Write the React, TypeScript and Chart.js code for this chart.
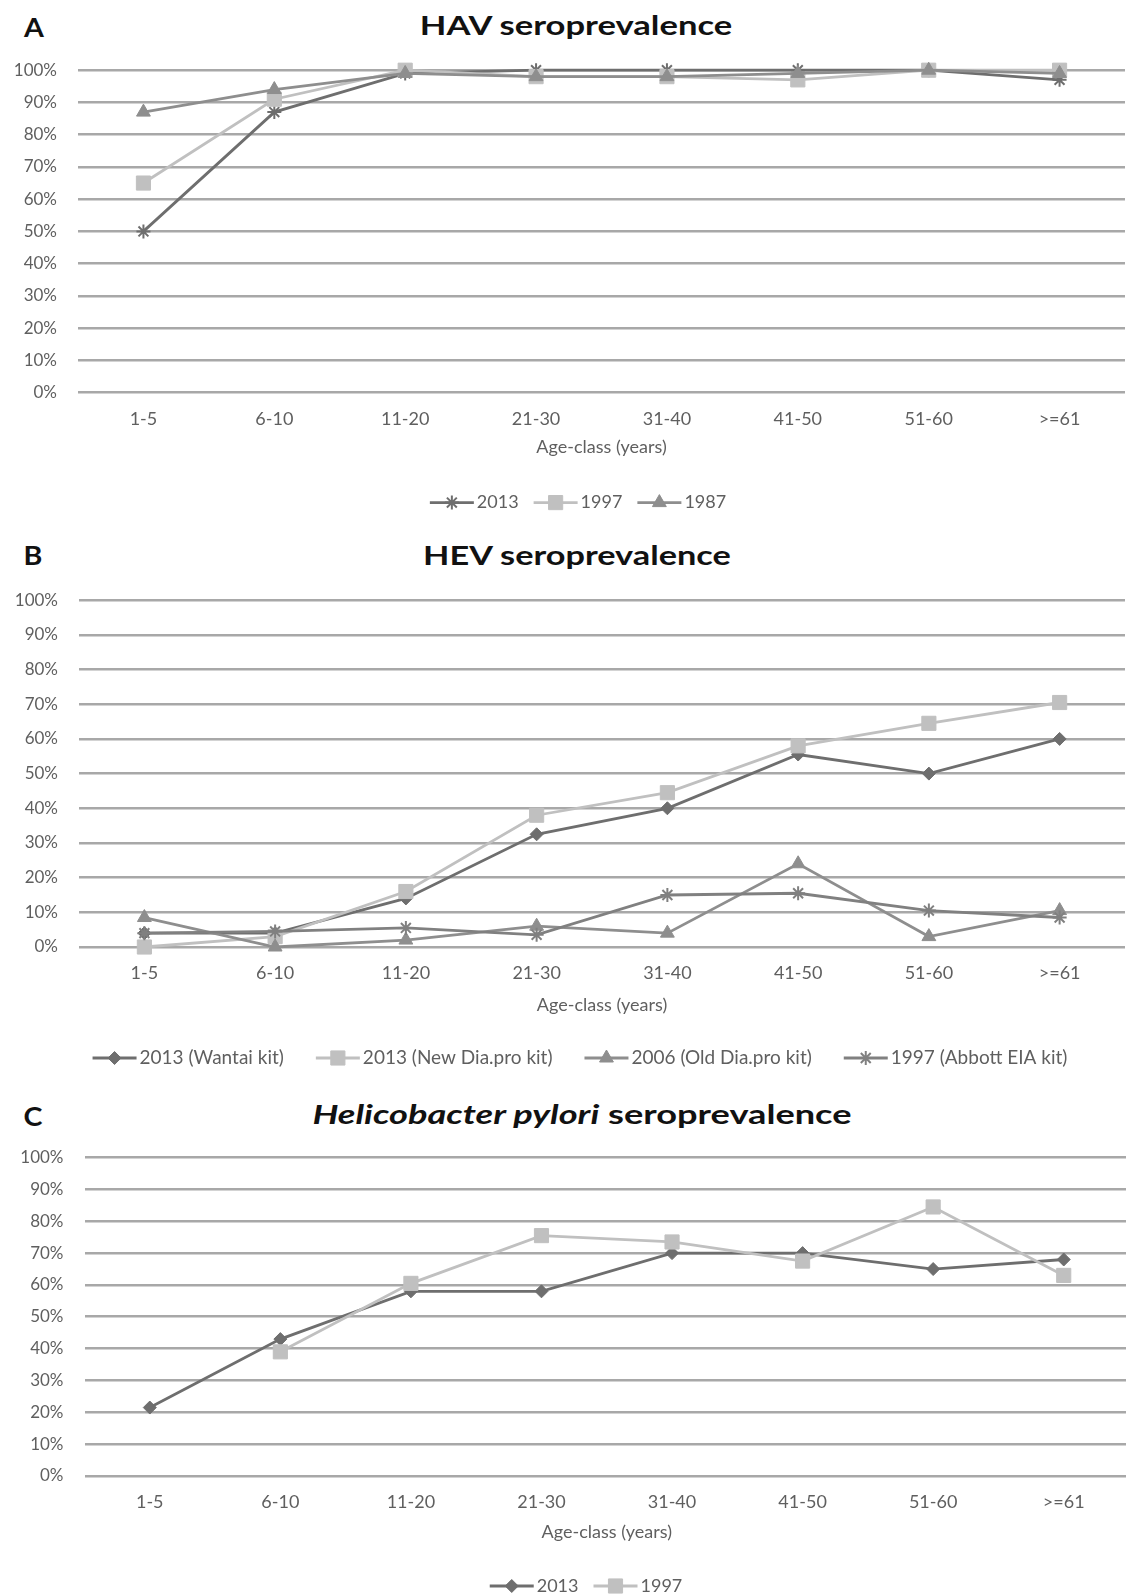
import React, { useEffect, useRef } from 'react';
import { Chart, registerables } from 'chart.js';
import { drawPoint } from 'chart.js/helpers';

Chart.register(...registerables);

// ---------- data ----------
const ageClasses = ['1-5', '6-10', '11-20', '21-30', '31-40', '41-50', '51-60', '>=61'];
const xAxisTitle = 'Age-class (years)';

const havLabels = ['2013', '1997', '1987'];
const hav2013 = [50, 87, 99, 100, 100, 100, 100, 97];
const hav1997 = [65, 91, 100, 98, 98, 97, 100, 100];
const hav1987 = [87, 94, 99, 98, 98, 99, 100, 99];

const hevLabels = ['2013 (Wantai kit)', '2013 (New Dia.pro kit)', '2006 (Old Dia.pro kit)', '1997 (Abbott EIA kit)'];
const hevWantai = [4, 4, 14, 32.5, 40, 55.5, 50, 60];
const hevNewDiapro = [0, 3, 16, 38, 44.5, 58, 64.5, 70.5];
const hevOldDiapro = [8.5, 0, 2, 6, 4, 24, 3, 10.5];
const hevAbbott = [4, 4.5, 5.5, 3.5, 15, 15.5, 10.5, 8.5];

const hpLabels = ['2013', '1997'];
const hp2013 = [21.5, 43, 58, 58, 70, 70, 65, 68];
const hp1997 = [null, 39, 60.5, 75.5, 73.5, 67.5, 84.5, 63];

// ---------- styles ----------
const FONT = 'Lato, "Open Sans", sans-serif';
const TEXT_COLOR = '#5f5f5f';
const GRID_COLOR = '#a8a8a8';
const DARK = '#6e6e6e';
const LIGHT = '#c0c0c0';
const MID = '#8e8e8e';
const MID2 = '#808080';

type SeriesStyle = { color: string; pointStyle: string; radius: number; pbw: number };

const styleStar = (c: string): SeriesStyle => ({ color: c, pointStyle: 'star', radius: 7, pbw: 2 });
const styleSquare = (c: string): SeriesStyle => ({ color: c, pointStyle: 'rect', radius: 10, pbw: 1 });
const styleTri = (c: string): SeriesStyle => ({ color: c, pointStyle: 'triangle', radius: 8, pbw: 1 });
const styleDiamond = (c: string): SeriesStyle => ({ color: c, pointStyle: 'rectRot', radius: 6.5, pbw: 1 });

function buildDatasets(labels: string[], data: (number | null)[][], styles: SeriesStyle[]) {
  const n = labels.length;
  return labels.map((label, i) => ({
    label,
    data: data[i],
    borderColor: styles[i].color,
    backgroundColor: styles[i].color,
    pointBackgroundColor: styles[i].color,
    pointBorderColor: styles[i].color,
    borderWidth: 2.8,
    pointStyle: styles[i].pointStyle,
    pointRadius: styles[i].radius,
    pointBorderWidth: styles[i].pbw,
    tension: 0,
    clip: false as any,
    order: n - i,
  }));
}

const legendPlugin = {
  id: 'customLegend',
  afterDraw(chart: any, _args: any, opts: any) {
    const ctx = chart.ctx as CanvasRenderingContext2D;
    const y = chart.chartArea.bottom + opts.offset;
    ctx.save();
    ctx.font = `${opts.fontSize}px ${FONT}`;
    ctx.textBaseline = 'middle';
    ctx.textAlign = 'left';
    const lineLen = 44;
    const textGap = 3;
    const items = chart.data.datasets.map((ds: any) => ({ ds, w: ctx.measureText(ds.label).width }));
    const total = items.reduce((s: number, it: any) => s + lineLen + textGap + it.w, 0) + opts.gap * (items.length - 1);
    let x = opts.cx - total / 2;
    for (const it of items) {
      const ds = it.ds;
      ctx.strokeStyle = ds.borderColor;
      ctx.lineWidth = ds.borderWidth;
      ctx.beginPath();
      ctx.moveTo(x, y);
      ctx.lineTo(x + lineLen, y);
      ctx.stroke();
      ctx.fillStyle = ds.pointBackgroundColor;
      ctx.strokeStyle = ds.pointBorderColor;
      ctx.lineWidth = ds.pointBorderWidth;
      drawPoint(ctx, { pointStyle: ds.pointStyle, radius: ds.pointRadius, rotation: 0, borderWidth: ds.pointBorderWidth } as any, x + lineLen / 2, y);
      ctx.fillStyle = TEXT_COLOR;
      ctx.fillText(ds.label, x + lineLen + textGap, y);
      x += lineLen + textGap + it.w + opts.gap;
    }
    ctx.restore();
  },
};

type PanelCfg = {
  canvasTop: number;
  canvasBottom: number;
  chartTop: number;
  chartBottom: number;
  yAxisW: number;
  chartRight: number;
  tickOff: number;
  titleOff: number;
  legendOff: number;
  legendCx: number;
  legendGap: number;
  legendSize: number;
  datasets: any[];
};

const X_TICK_SIZE = 18;
const Y_TICK_SIZE = 17;
const AXIS_TITLE_SIZE = 18;

function Panel({ cfg }: { cfg: PanelCfg }) {
  const ref = useRef<HTMLCanvasElement>(null);
  const canvasW = Math.ceil(cfg.chartRight + 5);
  const canvasH = cfg.canvasBottom - cfg.canvasTop;
  useEffect(() => {
    const titleLH = AXIS_TITLE_SIZE * 1.2;
    const xAxisH = cfg.titleOff + titleLH / 2;
    const padTop = cfg.chartTop - cfg.canvasTop;
    const padBottom = canvasH - (cfg.chartBottom - cfg.canvasTop) - xAxisH;
    const chart = new Chart(ref.current!, {
      type: 'line',
      data: { labels: ageClasses, datasets: cfg.datasets },
      plugins: [legendPlugin as any],
      options: {
        animation: false,
        responsive: false,
        maintainAspectRatio: false,
        devicePixelRatio: 1,
        layout: { padding: { top: padTop, bottom: padBottom, left: 0, right: canvasW - cfg.chartRight } },
        plugins: {
          legend: { display: false },
          title: { display: false },
          tooltip: { enabled: false },
          customLegend: { offset: cfg.legendOff, cx: cfg.legendCx, gap: cfg.legendGap, fontSize: cfg.legendSize },
        } as any,
        scales: {
          x: {
            type: 'category',
            offset: true,
            grid: { display: false, drawTicks: false },
            border: { display: false },
            ticks: {
              font: { size: X_TICK_SIZE, family: FONT },
              color: TEXT_COLOR,
              padding: cfg.tickOff - (X_TICK_SIZE * 1.2) / 2,
              autoSkip: false,
              maxRotation: 0,
            },
            title: {
              display: true,
              text: xAxisTitle,
              font: { size: AXIS_TITLE_SIZE, family: FONT },
              color: TEXT_COLOR,
              padding: { top: 0, bottom: 0 },
            },
            afterFit: (s: any) => {
              s.height = xAxisH;
            },
          },
          y: {
            min: 0,
            max: 100,
            grid: { color: GRID_COLOR, lineWidth: 2.6, drawTicks: false },
            border: { display: false },
            ticks: {
              stepSize: 10,
              callback: (v: any) => `${v}%`,
              font: { size: Y_TICK_SIZE, family: FONT },
              color: TEXT_COLOR,
              padding: 21,
            },
            afterFit: (s: any) => {
              s.width = cfg.yAxisW;
            },
          },
        },
      },
    });
    return () => chart.destroy();
  }, []);
  return (
    <canvas
      ref={ref}
      width={canvasW}
      height={canvasH}
      style={{ position: 'absolute', left: 0, top: cfg.canvasTop, width: canvasW, height: canvasH }}
    />
  );
}

const panelA: PanelCfg = {
  canvasTop: 30, canvasBottom: 525, chartTop: 70.2, chartBottom: 392.6,
  yAxisW: 78, chartRight: 1131, tickOff: 26.4, titleOff: 55, legendOff: 110, legendCx: 578, legendGap: 15, legendSize: 18,
  datasets: buildDatasets(havLabels, [hav2013, hav1997, hav1987], [styleStar(DARK), styleSquare(LIGHT), styleTri(MID)]),
};
const panelB: PanelCfg = {
  canvasTop: 560, canvasBottom: 1075, chartTop: 600.2, chartBottom: 947,
  yAxisW: 79, chartRight: 1131, tickOff: 26.5, titleOff: 58, legendOff: 111, legendCx: 580, legendGap: 32, legendSize: 19,
  datasets: buildDatasets(hevLabels, [hevWantai, hevNewDiapro, hevOldDiapro, hevAbbott], [styleDiamond(DARK), styleSquare(LIGHT), styleTri(MID), styleStar(MID2)]),
};
const panelC: PanelCfg = {
  canvasTop: 1117, canvasBottom: 1595, chartTop: 1157.6, chartBottom: 1476,
  yAxisW: 84.5, chartRight: 1135, tickOff: 26, titleOff: 56.5, legendOff: 110, legendCx: 586, legendGap: 15, legendSize: 18,
  datasets: buildDatasets(hpLabels, [hp2013, hp1997], [styleDiamond(DARK), styleSquare(LIGHT)]),
};

function Label({ x, y, size, scale, children }: { x: number; y: number; size: number; scale: number; children: React.ReactNode }) {
  return (
    <div
      style={{
        position: 'absolute', left: x, top: y, transform: `translate(-50%, -50%) scaleX(${scale})`,
        fontFamily: FONT, fontWeight: 700, fontSize: size, color: '#111', whiteSpace: 'nowrap', lineHeight: 1,
      }}
    >
      {children}
    </div>
  );
}

export default function App() {
  useEffect(() => {
    document.body.style.margin = '0';
    document.body.style.overflow = 'hidden';
  }, []);
  return (
    <div style={{ position: 'relative', width: 1126, height: 1595, overflow: 'hidden', background: '#fff' }}>
      <Label x={33.5} y={27} size={26} scale={1.1}>A</Label>
      <Label x={575.5} y={24} size={27} scale={1.28}>HAV seroprevalence</Label>
      <Label x={32.5} y={555} size={26} scale={1.1}>B</Label>
      <Label x={576.5} y={554} size={27} scale={1.27}>HEV seroprevalence</Label>
      <Label x={33} y={1116} size={26} scale={1.1}>C</Label>
      <Label x={582} y={1113} size={27} scale={1.34}>
        <i>Helicobacter pylori</i> seroprevalence
      </Label>
      <Panel cfg={panelA} />
      <Panel cfg={panelB} />
      <Panel cfg={panelC} />
    </div>
  );
}
